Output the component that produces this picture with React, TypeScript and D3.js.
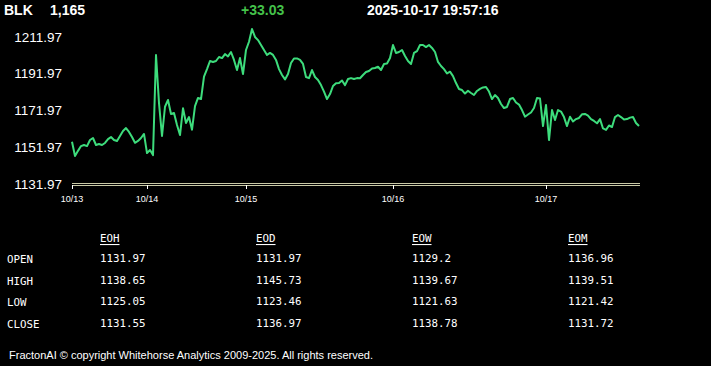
import React, { useEffect, useRef } from "react";
import * as d3 from "d3";

// price samples, evenly spaced in time
const prices = [
  1155.0, 1147.2, 1150.0, 1152.6, 1153.2, 1152.6, 1155.9, 1157.0, 1153.2, 1153.7,
  1153.2, 1154.3, 1156.4, 1157.5, 1155.9, 1155.4, 1158.1, 1160.8, 1162.4, 1160.3,
  1157.5, 1154.4, 1155.4, 1157.0, 1159.2, 1148.8, 1150.5, 1147.7, 1202.2, 1176.0,
  1158.1, 1174.0, 1177.7, 1170.1, 1170.6, 1164.1, 1158.6, 1173.2, 1165.2, 1168.4,
  1161.5, 1174.4, 1178.8, 1178.2, 1190.4, 1194.5, 1198.9, 1198.4, 1198.9, 1201.1,
  1200.5, 1202.7, 1201.4, 1203.8, 1199.5, 1194.0, 1200.5, 1191.8, 1204.9, 1209.4,
  1216.3, 1212.0, 1210.3, 1207.6, 1204.9, 1202.2, 1203.3, 1202.2, 1199.5, 1194.5,
  1191.3, 1188.9, 1191.8, 1197.8, 1200.3, 1200.3, 1199.5, 1197.3, 1190.2, 1189.6,
  1194.0, 1190.2, 1188.6, 1185.8, 1182.2, 1178.2, 1180.9, 1185.3, 1186.8, 1186.9,
  1188.3, 1185.8, 1189.1, 1189.6, 1189.1, 1189.6, 1189.5, 1191.3, 1192.9, 1193.5,
  1194.8, 1195.1, 1195.8, 1194.0, 1197.3, 1197.5, 1200.5, 1207.6, 1203.3, 1203.8,
  1204.9, 1201.6, 1198.9, 1197.3, 1203.3, 1204.3, 1207.6, 1207.6, 1206.5, 1207.6,
  1206.0, 1203.8, 1198.4, 1196.2, 1194.5, 1192.1, 1193.1, 1190.7, 1186.9, 1183.7,
  1183.1, 1181.2, 1182.7, 1181.5, 1180.4, 1182.6, 1183.7, 1184.5, 1184.8, 1182.3,
  1178.2, 1180.4, 1178.8, 1175.5, 1173.3, 1173.9, 1178.2, 1178.8, 1176.3, 1175.2,
  1172.2, 1168.6, 1169.8, 1170.9, 1173.3, 1178.8, 1178.5, 1163.5, 1175.0, 1155.9,
  1172.2, 1166.8, 1172.2, 1171.4, 1168.4, 1163.5, 1168.6, 1166.0, 1167.3, 1167.9,
  1169.9, 1170.1, 1169.2, 1167.3, 1166.3, 1165.0, 1167.3, 1162.2, 1161.4, 1163.8,
  1163.0, 1168.4, 1169.5, 1168.4, 1167.1, 1167.3, 1168.1, 1168.4, 1165.2, 1163.5,
];

const dayTickIndex = [0, 25, 58, 107, 158];
const dayTickLabels = ["10/13", "10/14", "10/15", "10/16", "10/17"];
const priceTicks = [1131.97, 1151.97, 1171.97, 1191.97, 1211.97];

const rowLabels = ["OPEN", "HIGH", "LOW", "CLOSE"];
const colHeaders = ["EOH", "EOD", "EOW", "EOM"];
const eoh = [1131.97, 1138.65, 1125.05, 1131.55];
const eod = [1131.97, 1145.73, 1123.46, 1136.97];
const eow = [1129.2, 1139.67, 1121.63, 1138.78];
const eom = [1136.96, 1139.51, 1121.42, 1131.72];

const symbol = "BLK";
const lastPrice = "1,165";
const change = "+33.03";
const stamp = "2025-10-17 19:57:16";

export default function App() {
  const ref = useRef<SVGSVGElement | null>(null);

  useEffect(() => {
    const svg = d3.select(ref.current);
    svg.selectAll("*").remove();

    const width = 711,
      height = 366;

    svg.append("rect").attr("width", width).attr("height", height).attr("fill", "#000");

    // header
    const head = svg.append("g")
      .style("font-family", "'Liberation Sans', Arial, sans-serif")
      .style("font-size", "14px")
      .style("font-weight", "bold");
    head.append("text").attr("x", 4).attr("y", 15).attr("fill", "#fff").text(symbol);
    head.append("text").attr("x", 50).attr("y", 15).attr("fill", "#fff").text(lastPrice);
    head.append("text").attr("x", 241).attr("y", 15).attr("fill", "#44c24a").text(change);
    head.append("text").attr("x", 367).attr("y", 15).attr("fill", "#fff").text(stamp);

    const x = d3.scaleLinear().domain([0, prices.length - 1]).range([72, 639]);
    const y = d3.scaleLinear().domain([1131.97, 1211.97]).range([184, 37]);

    // y labels
    svg.append("g")
      .selectAll("text")
      .data(priceTicks)
      .enter()
      .append("text")
      .attr("x", 62)
      .attr("y", (d) => y(d))
      .attr("text-anchor", "end")
      .attr("dominant-baseline", "central")
      .style("font-family", "'Liberation Sans', Arial, sans-serif")
      .style("font-size", "13.5px")
      .attr("fill", "#fff")
      .text((d) => d.toFixed(2));

    // x axis double line
    const ax = svg.append("g");
    [-1, 1].forEach((o) => {
      ax.append("line")
        .attr("x1", 72)
        .attr("x2", 640)
        .attr("y1", y(1131.97) + o + 0.5)
        .attr("y2", y(1131.97) + o + 0.5)
        .attr("stroke", "#c9c9a6")
        .attr("stroke-width", 1);
    });
    ax.selectAll(".tick")
      .data(dayTickIndex)
      .enter()
      .append("line")
      .attr("x1", (d) => Math.round(x(d)) + 0.5)
      .attr("x2", (d) => Math.round(x(d)) + 0.5)
      .attr("y1", 185)
      .attr("y2", 189)
      .attr("stroke", "#fff");
    ax.selectAll(".lbl")
      .data(dayTickIndex)
      .enter()
      .append("text")
      .attr("x", (d) => x(d))
      .attr("y", 202)
      .attr("text-anchor", "middle")
      .style("font-family", "'Liberation Sans', Arial, sans-serif")
      .style("font-size", "9px")
      .attr("fill", "#fff")
      .text((d, i) => dayTickLabels[i]);

    // price line
    const line = d3.line<number>()
      .x((d, i) => x(i))
      .y((d) => y(d));
    svg.append("path")
      .datum(prices)
      .attr("d", line)
      .attr("fill", "none")
      .attr("stroke", "#3ddc7c")
      .attr("stroke-width", 2)
      .attr("stroke-linejoin", "round");

    // summary table
    const cols = [eoh, eod, eow, eom];
    const cx = d3.scalePoint<string>().domain(colHeaders).range([100, 568]);
    const ry = d3.scalePoint<string>().domain(rowLabels).range([259.5, 324.5]);
    const tbl = svg.append("g")
      .style("font-family", "'DejaVu Sans Mono', 'Liberation Mono', monospace")
      .style("font-size", "10.8px")
      .attr("fill", "#fff");

    tbl.selectAll(".hdr")
      .data(colHeaders)
      .enter()
      .append("text")
      .attr("x", (d) => cx(d) as number)
      .attr("y", 238.5)
      .attr("dominant-baseline", "central")
      .style("text-decoration", "underline")
      .text((d) => d);

    tbl.selectAll(".row")
      .data(rowLabels)
      .enter()
      .append("text")
      .attr("x", 7)
      .attr("y", (d) => ry(d) as number)
      .attr("dominant-baseline", "central")
      .text((d) => d);

    cols.forEach((vals, c) => {
      tbl.append("g")
        .selectAll("text")
        .data(vals)
        .enter()
        .append("text")
        .attr("x", cx(colHeaders[c]) as number)
        .attr("y", (d, i) => (ry(rowLabels[i]) as number) - 1)
        .attr("dominant-baseline", "central")
        .text((d) => String(d));
    });

    // footer
    svg.append("text")
      .attr("x", 9)
      .attr("y", 359)
      .attr("textLength", 364)
      .attr("lengthAdjust", "spacingAndGlyphs")
      .style("font-family", "'Liberation Sans', Arial, sans-serif")
      .style("font-size", "11px")
      .attr("fill", "#fff")
      .text("FractonAI \u00a9 copyright Whitehorse Analytics 2009-2025. All rights reserved.");
  }, []);

  return (
    <div style={{ position: "fixed", left: 0, top: 0, width: 711, height: 366, background: "#000" }}>
      <svg ref={ref} width={711} height={366} style={{ display: "block" }} />
    </div>
  );
}
